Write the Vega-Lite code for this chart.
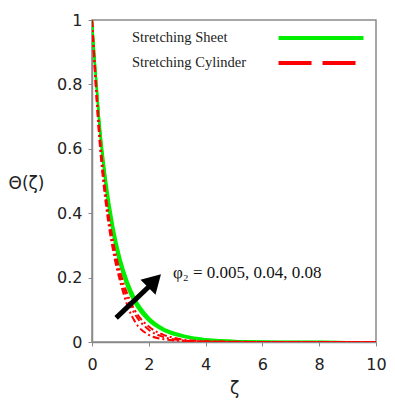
{
  "$schema": "https://vega.github.io/schema/vega-lite/v6.json",
  "width": 284,
  "height": 322,
  "autosize": {"type": "none"},
  "padding": {"left": 92, "top": 20, "right": 19, "bottom": 62},
  "background": "white",
  "config": {
    "view": {"stroke": "#8a8a8a", "strokeWidth": 1.5},
    "axis": {
      "grid": false,
      "domainColor": "#8a8a8a",
      "domainWidth": 1.5,
      "tickColor": "#8a8a8a",
      "tickSize": 4,
      "labelFont": "DejaVu Sans",
      "labelFontSize": 16,
      "labelColor": "#222222",
      "titleFont": "DejaVu Sans",
      "titleFontSize": 17,
      "titleFontWeight": "normal",
      "titleColor": "#222222"
    }
  },
  "layer": [
    {
      "data": {
        "values": [
          {"s": "G1", "t": "Stretching Sheet", "z": 0, "v": 1},
          {"s": "G1", "t": "Stretching Sheet", "z": 0.1, "v": 0.875},
          {"s": "G1", "t": "Stretching Sheet", "z": 0.25, "v": 0.70},
          {"s": "G1", "t": "Stretching Sheet", "z": 0.5, "v": 0.50},
          {"s": "G1", "t": "Stretching Sheet", "z": 0.75, "v": 0.36},
          {"s": "G1", "t": "Stretching Sheet", "z": 1, "v": 0.26},
          {"s": "G1", "t": "Stretching Sheet", "z": 1.25, "v": 0.19},
          {"s": "G1", "t": "Stretching Sheet", "z": 1.5, "v": 0.138},
          {"s": "G1", "t": "Stretching Sheet", "z": 2, "v": 0.076},
          {"s": "G1", "t": "Stretching Sheet", "z": 2.5, "v": 0.043},
          {"s": "G1", "t": "Stretching Sheet", "z": 3, "v": 0.026},
          {"s": "G1", "t": "Stretching Sheet", "z": 3.5, "v": 0.015},
          {"s": "G1", "t": "Stretching Sheet", "z": 4, "v": 0.009},
          {"s": "G1", "t": "Stretching Sheet", "z": 5, "v": 0.0035},
          {"s": "G1", "t": "Stretching Sheet", "z": 6, "v": 0.0013},
          {"s": "G1", "t": "Stretching Sheet", "z": 7, "v": 0.0005},
          {"s": "G1", "t": "Stretching Sheet", "z": 8, "v": 0.0002},
          {"s": "G1", "t": "Stretching Sheet", "z": 10, "v": 0},
          {"s": "G2", "t": "Stretching Sheet", "z": 0, "v": 1},
          {"s": "G2", "t": "Stretching Sheet", "z": 0.1, "v": 0.87},
          {"s": "G2", "t": "Stretching Sheet", "z": 0.25, "v": 0.692},
          {"s": "G2", "t": "Stretching Sheet", "z": 0.5, "v": 0.485},
          {"s": "G2", "t": "Stretching Sheet", "z": 0.75, "v": 0.345},
          {"s": "G2", "t": "Stretching Sheet", "z": 1, "v": 0.25},
          {"s": "G2", "t": "Stretching Sheet", "z": 1.25, "v": 0.18},
          {"s": "G2", "t": "Stretching Sheet", "z": 1.5, "v": 0.13},
          {"s": "G2", "t": "Stretching Sheet", "z": 2, "v": 0.071},
          {"s": "G2", "t": "Stretching Sheet", "z": 2.5, "v": 0.040},
          {"s": "G2", "t": "Stretching Sheet", "z": 3, "v": 0.023},
          {"s": "G2", "t": "Stretching Sheet", "z": 3.5, "v": 0.013},
          {"s": "G2", "t": "Stretching Sheet", "z": 4, "v": 0.008},
          {"s": "G2", "t": "Stretching Sheet", "z": 5, "v": 0.003},
          {"s": "G2", "t": "Stretching Sheet", "z": 6, "v": 0.001},
          {"s": "G2", "t": "Stretching Sheet", "z": 7, "v": 0.0004},
          {"s": "G2", "t": "Stretching Sheet", "z": 8, "v": 0.0001},
          {"s": "G2", "t": "Stretching Sheet", "z": 10, "v": 0},
          {"s": "G3", "t": "Stretching Sheet", "z": 0, "v": 1},
          {"s": "G3", "t": "Stretching Sheet", "z": 0.1, "v": 0.865},
          {"s": "G3", "t": "Stretching Sheet", "z": 0.25, "v": 0.684},
          {"s": "G3", "t": "Stretching Sheet", "z": 0.5, "v": 0.47},
          {"s": "G3", "t": "Stretching Sheet", "z": 0.75, "v": 0.33},
          {"s": "G3", "t": "Stretching Sheet", "z": 1, "v": 0.236},
          {"s": "G3", "t": "Stretching Sheet", "z": 1.25, "v": 0.168},
          {"s": "G3", "t": "Stretching Sheet", "z": 1.5, "v": 0.121},
          {"s": "G3", "t": "Stretching Sheet", "z": 2, "v": 0.065},
          {"s": "G3", "t": "Stretching Sheet", "z": 2.5, "v": 0.036},
          {"s": "G3", "t": "Stretching Sheet", "z": 3, "v": 0.020},
          {"s": "G3", "t": "Stretching Sheet", "z": 3.5, "v": 0.011},
          {"s": "G3", "t": "Stretching Sheet", "z": 4, "v": 0.006},
          {"s": "G3", "t": "Stretching Sheet", "z": 5, "v": 0.002},
          {"s": "G3", "t": "Stretching Sheet", "z": 6, "v": 0.0008},
          {"s": "G3", "t": "Stretching Sheet", "z": 7, "v": 0.0003},
          {"s": "G3", "t": "Stretching Sheet", "z": 8, "v": 0.0001},
          {"s": "G3", "t": "Stretching Sheet", "z": 10, "v": 0},
          {"s": "R1", "t": "Stretching Cylinder", "z": 0, "v": 1},
          {"s": "R1", "t": "Stretching Cylinder", "z": 0.1, "v": 0.86},
          {"s": "R1", "t": "Stretching Cylinder", "z": 0.25, "v": 0.67},
          {"s": "R1", "t": "Stretching Cylinder", "z": 0.5, "v": 0.45},
          {"s": "R1", "t": "Stretching Cylinder", "z": 0.75, "v": 0.31},
          {"s": "R1", "t": "Stretching Cylinder", "z": 1, "v": 0.215},
          {"s": "R1", "t": "Stretching Cylinder", "z": 1.25, "v": 0.148},
          {"s": "R1", "t": "Stretching Cylinder", "z": 1.5, "v": 0.10},
          {"s": "R1", "t": "Stretching Cylinder", "z": 2, "v": 0.048},
          {"s": "R1", "t": "Stretching Cylinder", "z": 2.5, "v": 0.023},
          {"s": "R1", "t": "Stretching Cylinder", "z": 3, "v": 0.011},
          {"s": "R1", "t": "Stretching Cylinder", "z": 3.5, "v": 0.005},
          {"s": "R1", "t": "Stretching Cylinder", "z": 4, "v": 0.0025},
          {"s": "R1", "t": "Stretching Cylinder", "z": 5, "v": 0.0008},
          {"s": "R1", "t": "Stretching Cylinder", "z": 6, "v": 0.0002},
          {"s": "R1", "t": "Stretching Cylinder", "z": 7, "v": 0.0001},
          {"s": "R1", "t": "Stretching Cylinder", "z": 8, "v": 0},
          {"s": "R1", "t": "Stretching Cylinder", "z": 10, "v": 0},
          {"s": "R2", "t": "Stretching Cylinder", "z": 0, "v": 1},
          {"s": "R2", "t": "Stretching Cylinder", "z": 0.1, "v": 0.85},
          {"s": "R2", "t": "Stretching Cylinder", "z": 0.25, "v": 0.655},
          {"s": "R2", "t": "Stretching Cylinder", "z": 0.5, "v": 0.435},
          {"s": "R2", "t": "Stretching Cylinder", "z": 0.75, "v": 0.295},
          {"s": "R2", "t": "Stretching Cylinder", "z": 1, "v": 0.20},
          {"s": "R2", "t": "Stretching Cylinder", "z": 1.25, "v": 0.133},
          {"s": "R2", "t": "Stretching Cylinder", "z": 1.5, "v": 0.088},
          {"s": "R2", "t": "Stretching Cylinder", "z": 2, "v": 0.038},
          {"s": "R2", "t": "Stretching Cylinder", "z": 2.5, "v": 0.016},
          {"s": "R2", "t": "Stretching Cylinder", "z": 3, "v": 0.007},
          {"s": "R2", "t": "Stretching Cylinder", "z": 3.5, "v": 0.003},
          {"s": "R2", "t": "Stretching Cylinder", "z": 4, "v": 0.0015},
          {"s": "R2", "t": "Stretching Cylinder", "z": 5, "v": 0.0004},
          {"s": "R2", "t": "Stretching Cylinder", "z": 6, "v": 0.0001},
          {"s": "R2", "t": "Stretching Cylinder", "z": 7, "v": 0},
          {"s": "R2", "t": "Stretching Cylinder", "z": 8, "v": 0},
          {"s": "R2", "t": "Stretching Cylinder", "z": 10, "v": 0},
          {"s": "R3", "t": "Stretching Cylinder", "z": 0, "v": 1},
          {"s": "R3", "t": "Stretching Cylinder", "z": 0.1, "v": 0.84},
          {"s": "R3", "t": "Stretching Cylinder", "z": 0.25, "v": 0.64},
          {"s": "R3", "t": "Stretching Cylinder", "z": 0.5, "v": 0.42},
          {"s": "R3", "t": "Stretching Cylinder", "z": 0.75, "v": 0.28},
          {"s": "R3", "t": "Stretching Cylinder", "z": 1, "v": 0.185},
          {"s": "R3", "t": "Stretching Cylinder", "z": 1.25, "v": 0.112},
          {"s": "R3", "t": "Stretching Cylinder", "z": 1.5, "v": 0.065},
          {"s": "R3", "t": "Stretching Cylinder", "z": 2, "v": 0.022},
          {"s": "R3", "t": "Stretching Cylinder", "z": 2.5, "v": 0.009},
          {"s": "R3", "t": "Stretching Cylinder", "z": 3, "v": 0.004},
          {"s": "R3", "t": "Stretching Cylinder", "z": 3.5, "v": 0.002},
          {"s": "R3", "t": "Stretching Cylinder", "z": 4, "v": 0.001},
          {"s": "R3", "t": "Stretching Cylinder", "z": 5, "v": 0.0002},
          {"s": "R3", "t": "Stretching Cylinder", "z": 6, "v": 0},
          {"s": "R3", "t": "Stretching Cylinder", "z": 7, "v": 0},
          {"s": "R3", "t": "Stretching Cylinder", "z": 8, "v": 0},
          {"s": "R3", "t": "Stretching Cylinder", "z": 10, "v": 0}
        ]
      },
      "encoding": {
        "x": {
          "field": "z", "type": "quantitative",
          "scale": {"domain": [0, 10], "nice": false},
          "axis": {
            "title": "ζ",
            "titlePadding": 8,
            "labelPadding": 10,
            "values": [0, 1, 2, 3, 4, 5, 6, 7, 8, 9, 10],
            "labelExpr": "datum.value % 2 == 0 ? datum.label : ''",
            "labelFlush": false,
            "labelOverlap": false
          }
        },
        "y": {
          "field": "v", "type": "quantitative",
          "scale": {"domain": [0, 1], "nice": false},
          "axis": {
            "title": "Θ(ζ)",
            "titleAngle": 0,
            "titleAlign": "center",
            "titleBaseline": "middle",
            "titleX": -66,
            "titleY": 163,
            "format": "~g",
            "labelPadding": 6,
            "values": [0, 0.1, 0.2, 0.3, 0.4, 0.5, 0.6, 0.7, 0.8, 0.9, 1],
            "labelExpr": "round(datum.value * 10) % 2 == 0 ? datum.label : ''",
            "labelFlush": false,
            "labelOverlap": false
          }
        }
      },
      "layer": [
        {
          "transform": [{"filter": "datum.t === 'Stretching Sheet'"}],
          "mark": {"type": "line", "interpolate": "monotone", "clip": true, "strokeWidth": 2.2},
          "encoding": {
            "detail": {"field": "s"},
            "color": {
              "field": "t", "type": "nominal",
              "scale": {"domain": ["Stretching Sheet", "Stretching Cylinder"], "range": ["#00ee00", "#ff0000"]},
              "legend": {
                "title": null,
                "orient": "none",
                "legendX": 216,
                "legendY": 5,
                "padding": 0,
                "symbolType": "M-4,0H4",
                "symbolSize": 451,
                "symbolStrokeWidth": 4,
                "labelOffset": -202,
                "rowPadding": 4,
                "labelFont": "Liberation Serif",
                "labelFontSize": 14.5,
                "labelColor": "#222222",
                "encode": {
                  "symbols": {
                    "update": {
                      "strokeDash": {"signal": "datum.value === 'Stretching Cylinder' ? [33, 11] : [1, 0]"}
                    }
                  }
                }
              }
            }
          }
        },
        {
          "transform": [{"filter": "datum.t === 'Stretching Cylinder'"}],
          "mark": {"type": "line", "interpolate": "monotone", "clip": true, "strokeWidth": 2, "strokeDash": [7, 3, 2, 3]},
          "encoding": {
            "detail": {"field": "s"},
            "color": {"field": "t", "type": "nominal"}
          }
        }
      ]
    },
    {
      "data": {"values": [{}]},
      "mark": {"type": "rule", "color": "black", "strokeWidth": 5},
      "encoding": {
        "x": {"datum": 0.85, "type": "quantitative"},
        "y": {"datum": 0.075, "type": "quantitative"},
        "x2": {"datum": 2.1},
        "y2": {"datum": 0.18}
      }
    },
    {
      "data": {"values": [{}]},
      "mark": {"type": "point", "shape": "triangle-up", "filled": true, "color": "black", "opacity": 1, "size": 450, "angle": 45},
      "encoding": {
        "x": {"datum": 2.2, "type": "quantitative"},
        "y": {"datum": 0.19, "type": "quantitative"}
      }
    },
    {
      "data": {"values": [{}]},
      "mark": {"type": "text", "align": "left", "baseline": "middle", "font": "Liberation Serif", "fontSize": 17, "color": "#111111", "text": "φ₂ = 0.005, 0.04, 0.08"},
      "encoding": {
        "x": {"datum": 2.85, "type": "quantitative"},
        "y": {"datum": 0.215, "type": "quantitative"}
      }
    }
  ]
}
